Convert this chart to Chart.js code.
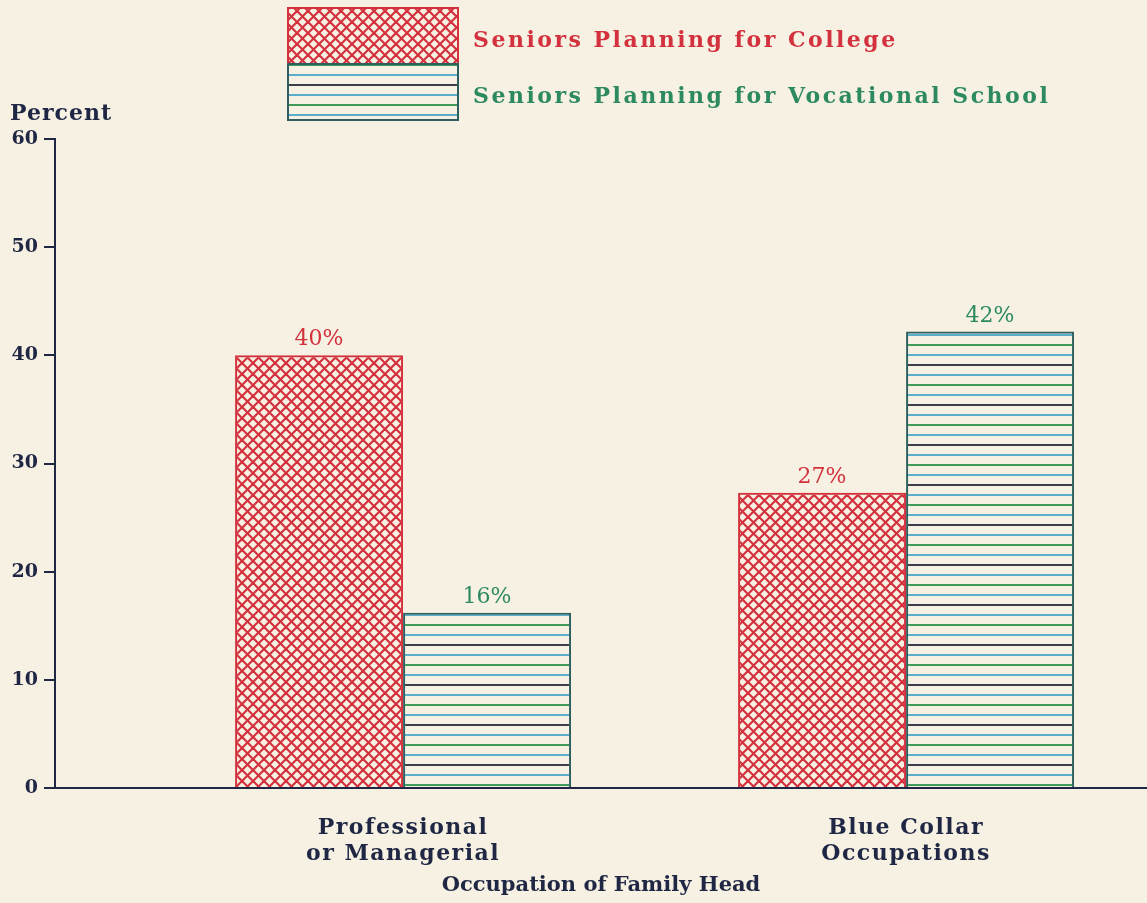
<!DOCTYPE html>
<html>
<head>
<meta charset="utf-8">
<script src="https://cdn.jsdelivr.net/npm/chart.js@4/dist/chart.umd.min.js"></script>
<style>
  html, body { margin: 0; padding: 0; background: #f6f1e2; overflow: hidden; }
</style>
</head>
<body>
<canvas id="chart" width="1147" height="903"></canvas>
<script>
// data
const categories = [['Professional', 'or Managerial'], ['Blue Collar', 'Occupations']];
const seriesLabels = ['Seniors Planning for College', 'Seniors Planning for Vocational School'];
const college = [40, 27.3];
const vocational = [16.2, 42.2];
const yTicks = [0, 10, 20, 30, 40, 50, 60];
const xTitle = 'Occupation of Family Head';
const yTitle = 'Percent';

const PAPER = '#f6f1e2';
const INK = '#1f2744';
const RED = '#d3313e';
const GREEN = '#2d8a60';
const FONT = "'DejaVu Serif', serif";

// red cross hatching
function makeHatch() {
    const c = document.createElement('canvas');
    c.width = 11; c.height = 11;
    const g = c.getContext('2d');
    g.strokeStyle = RED;
    g.lineWidth = 2.2;
    for (const o of [-11, 0, 11]) {
        g.beginPath(); g.moveTo(o, 0); g.lineTo(o + 11, 11); g.stroke();
        g.beginPath(); g.moveTo(o, 11); g.lineTo(o + 11, 0); g.stroke();
    }
    return g.createPattern(c, 'repeat');
}

// horizontal rules, dark / teal / green / teal
function makeLines() {
    const c = document.createElement('canvas');
    c.width = 8; c.height = 40;
    const g = c.getContext('2d');
    ['#3b3f4a', '#5aaecb', '#3f9c58', '#5aaecb'].forEach((col, i) => {
        g.fillStyle = col;
        g.fillRect(0, i * 10 + 4, 8, 2);
    });
    return g.createPattern(c, 'repeat');
}

const hatch = makeHatch();
const lines = makeLines();

function drawText(ctx, text, x, y, font, color, spacing, align) {
    ctx.save();
    ctx.font = font;
    ctx.fillStyle = color;
    ctx.letterSpacing = spacing + 'px';
    ctx.textAlign = align || 'left';
    ctx.textBaseline = 'alphabetic';
    ctx.fillText(text, x, y);
    ctx.restore();
}

const paper = {
    id: 'paper',
    beforeLayout(chart) {
        chart.ctx.letterSpacing = '1.5px';
    },
    beforeDraw(chart) {
        const ctx = chart.ctx;
        ctx.save();
        ctx.fillStyle = PAPER;
        ctx.fillRect(0, 0, chart.width, chart.height);
        ctx.restore();
        ctx.letterSpacing = '0px'; // y ticks + axis title
    }
};

const valueLabels = {
    id: 'valueLabels',
    afterDatasetsDraw(chart) {
        const ctx = chart.ctx;
        chart.data.datasets.forEach((ds, i) => {
            chart.getDatasetMeta(i).data.forEach((bar, j) => {
                drawText(ctx, Math.round(ds.data[j].y) + '%', bar.x, bar.y - 10,
                    '22px ' + FONT, ds.labelColor, 0, 'center');
            });
        });
        ctx.letterSpacing = '1.5px'; // category labels are drawn after this
    }
};

const decorations = {
    id: 'decorations',
    afterDraw(chart) {
        const ctx = chart.ctx;
        ctx.letterSpacing = '0px';
        // stacked legend box
        const bx = 288, by = 8, bw = 170, bh = 56;
        const ds = chart.data.datasets;
        ctx.save();
        ds.forEach((d, i) => {
            const y = by + i * bh;
            ctx.fillStyle = d.backgroundColor;
            ctx.fillRect(bx, y, bw, bh);
            ctx.strokeStyle = d.borderColor;
            ctx.lineWidth = 2;
            ctx.strokeRect(bx, y, bw, bh);
            drawText(ctx, d.label, bx + 185, y + 39, 'bold 22px ' + FONT, d.labelColor, 2.5);
        });
        ctx.restore();
        drawText(ctx, yTitle, 10, 120, 'bold 22px ' + FONT, INK, 1);
    }
};

new Chart(document.getElementById('chart'), {
    type: 'bar',
    data: {
        datasets: [
            {
                label: seriesLabels[0],
                data: college.map((v, i) => ({ x: i, y: v })),
                backgroundColor: hatch,
                borderColor: RED,
                borderWidth: 2,
                labelColor: RED
            },
            {
                label: seriesLabels[1],
                data: vocational.map((v, i) => ({ x: i, y: v })),
                backgroundColor: lines,
                borderColor: '#2c5f5e',
                borderWidth: 2,
                labelColor: GREEN
            }
        ]
    },
    options: {
        responsive: false,
        animation: false,
        events: [],
        categoryPercentage: 0.668,
        barPercentage: 1,
        layout: { padding: { top: 139, left: 0, right: 0, bottom: 0 } },
        plugins: {
            legend: { display: false },
            tooltip: { enabled: false }
        },
        scales: {
            x: {
                type: 'linear',
                offset: false,
                bounds: 'data',
                min: -0.692,
                max: 1.479,
                afterBuildTicks: s => { s.ticks = categories.map((c, i) => ({ value: i })); },
                afterFit: s => { s.height = 115; },
                grid: { display: false },
                border: { display: true, color: INK, width: 2 },
                ticks: {
                    z: 1,
                    autoSkip: false,
                    maxRotation: 0,
                    padding: 20,
                    color: INK,
                    font: { family: FONT, size: 22, weight: 'bold', lineHeight: 1.15 },
                    callback: v => categories[v] || ''
                },
                title: {
                    display: true,
                    text: xTitle,
                    color: INK,
                    font: { family: FONT, size: 21, weight: 'bold', lineHeight: 1.2 },
                    padding: { top: 4, bottom: 5 }
                }
            },
            y: {
                min: 0,
                max: 60,
                afterBuildTicks: s => { s.ticks = yTicks.map(v => ({ value: v })); },
                afterFit: s => { s.width = 55; },
                border: { display: true, color: INK, width: 2 },
                grid: {
                    display: true,
                    drawOnChartArea: false,
                    drawTicks: true,
                    tickLength: 11,
                    color: INK,
                    lineWidth: 2
                },
                ticks: {
                    padding: 6,
                    color: INK,
                    font: { family: FONT, size: 19, weight: 'bold' }
                }
            }
        }
    },
    plugins: [paper, valueLabels, decorations]
});
</script>
</body>
</html>
